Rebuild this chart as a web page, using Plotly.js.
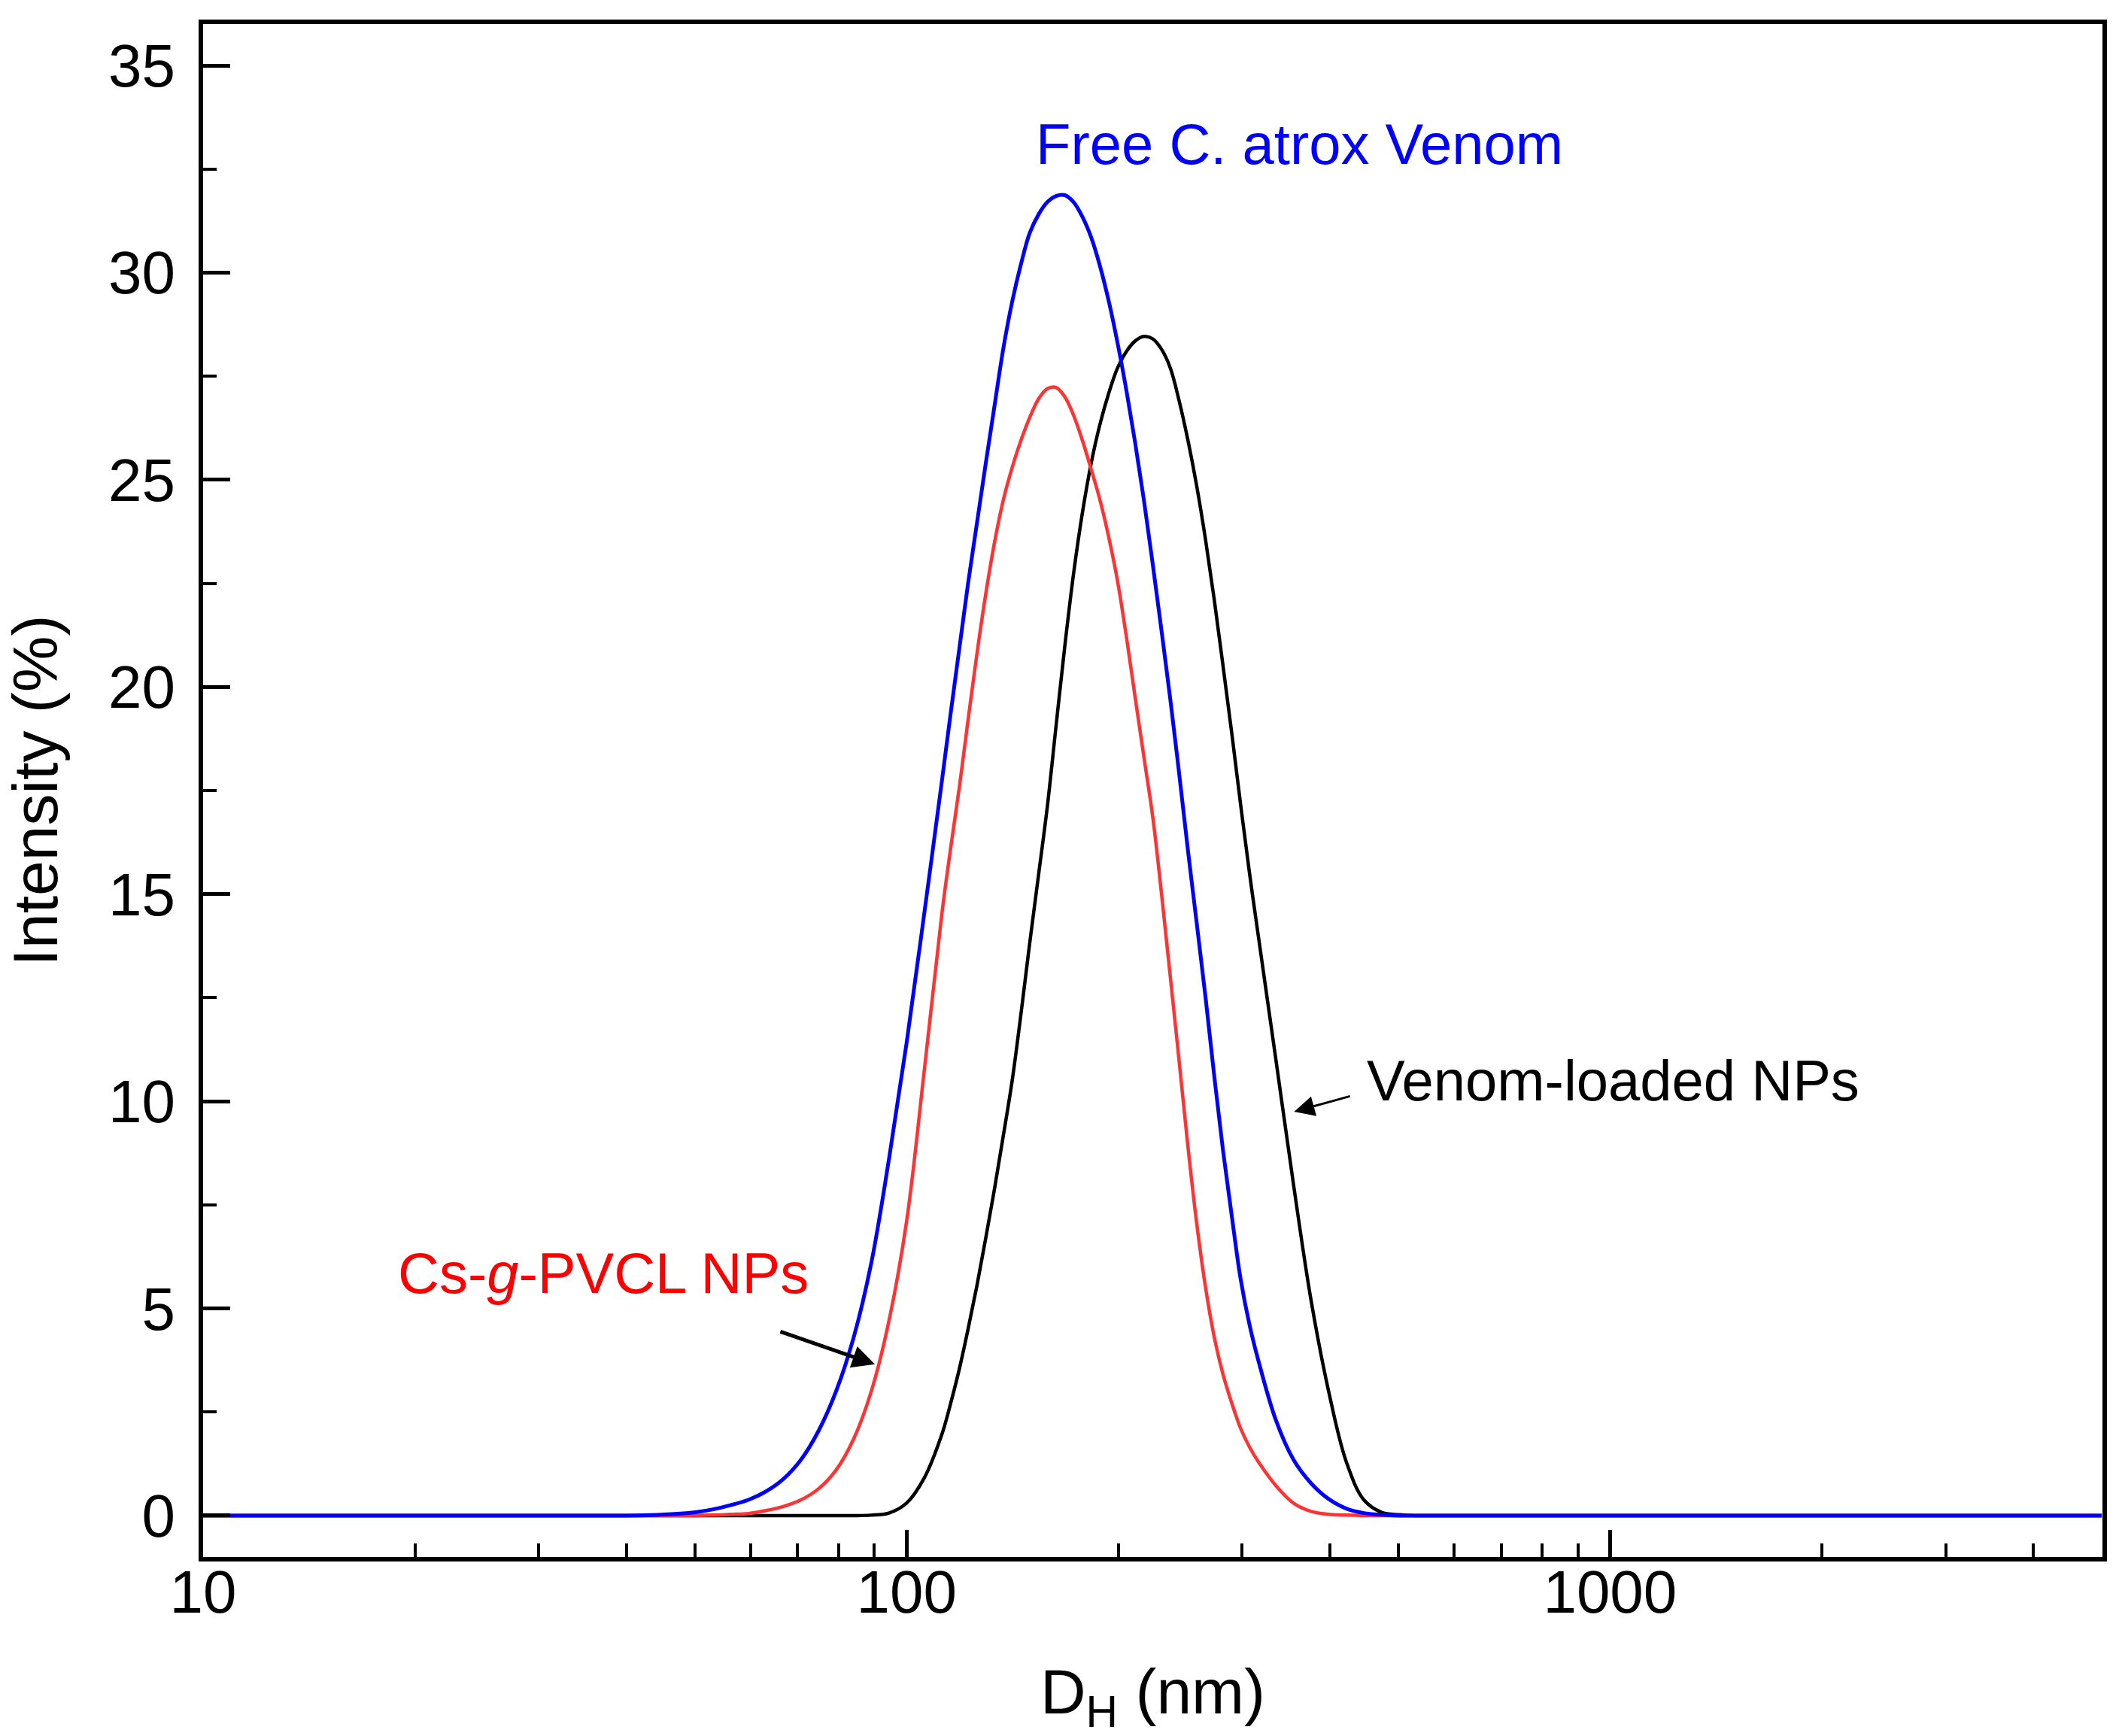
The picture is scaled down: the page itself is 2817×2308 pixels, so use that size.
<!DOCTYPE html>
<html>
<head>
<meta charset="utf-8">
<script src="https://cdn.plot.ly/plotly-3.0.1.min.js"></script>
<style>
  html, body { margin: 0; padding: 0; background: #ffffff; }
  #chart { width: 2817px; height: 2308px; }
</style>
</head>
<body>
<div id="chart"></div>
<script>
// DLS size distributions (intensity %), on a shared size grid (nm)
const sizeNm = [10, 39.8, 44.7, 50.1, 53.1, 56.2, 59.6, 63.1, 66.8, 70.8, 75.0, 79.4, 84.1,
  89.1, 94.4, 100, 105.9, 112.2, 115.5, 118.9, 122.3, 125.9, 129.6, 133.4, 137.2, 141.3,
  145.4, 149.6, 154.0, 158.5, 163.1, 167.9, 172.8, 177.8, 183.0, 188.4, 193.9, 199.5,
  205.4, 211.3, 217.5, 223.9, 230.4, 237.1, 244.1, 251.2, 258.5, 266.1, 273.8, 281.8,
  290.1, 298.5, 307.3, 316.2, 335.0, 354.8, 375.8, 398.1, 421.7, 446.7, 473.2, 501.2,
  530.9, 562.3, 1000, 5000];

// Cs-g-PVCL NPs (red)
const intBlank = [0, 0, 0, 0, 0.01, 0.03, 0.05, 0.12, 0.22, 0.38, 0.65, 1.1, 1.85,
  3.0, 4.7, 7.1, 10.7, 14.5, 16.1, 17.6, 19.2, 20.8, 22.25, 23.5, 24.5, 25.3,
  25.95, 26.5, 26.95, 27.2, 27.23, 27.0, 26.55, 25.95, 25.25, 24.5, 23.6, 22.55,
  21.2, 19.75, 18.3, 16.85, 15.0, 13.0, 10.95, 8.9, 7.05, 5.5, 4.3, 3.4,
  2.7, 2.1, 1.65, 1.3, 0.72, 0.3, 0.1, 0.03, 0.01, 0, 0, 0,
  0, 0, 0, 0];

// Free C. atrox venom (blue)
const intFree = [0, 0, 0.02, 0.08, 0.15, 0.25, 0.38, 0.58, 0.88, 1.35, 2.05, 3.0, 4.3,
  6.1, 8.6, 11.4, 14.5, 17.7, 19.35, 20.95, 22.5, 23.95, 25.4, 26.8, 28.15, 29.3,
  30.2, 30.95, 31.4, 31.7, 31.85, 31.87, 31.7, 31.35, 30.85, 30.15, 29.3, 28.3,
  27.15, 25.9, 24.5, 22.95, 21.35, 19.7, 17.9, 16.05, 14.3, 12.5, 10.6, 8.8,
  7.2, 5.7, 4.6, 3.75, 2.3, 1.35, 0.78, 0.4, 0.17, 0.06, 0.02, 0,
  0, 0, 0, 0];

// Venom-loaded NPs (black)
const intLoaded = [0, 0, 0, 0, 0, 0, 0, 0, 0, 0, 0, 0, 0,
  0.01, 0.06, 0.3, 0.9, 1.95, 2.7, 3.55, 4.5, 5.55, 6.7, 7.9, 9.15, 10.5,
  12.1, 13.8, 15.45, 17.1, 19.05, 21.0, 22.75, 24.2, 25.4, 26.35, 27.1, 27.7,
  28.1, 28.35, 28.46, 28.4, 28.15, 27.7, 26.9, 25.95, 24.85, 23.55, 22.1, 20.5,
  18.85, 17.15, 15.5, 14.0, 11.0, 8.0, 5.2, 3.0, 1.3, 0.38, 0.08, 0.02,
  0, 0, 0, 0];

const xMajor = [10, 100, 1000];
const xMajorText = ["10", "100", "1000"];
const xMinor = [20, 30, 40, 50, 60, 70, 80, 90, 200, 300, 400, 500, 600, 700, 800, 900,
  2000, 3000, 4000];

const FONT = "Liberation Sans, Arial, sans-serif";

function curve(y, color, width) {
  return {
    x: sizeNm,
    y: y,
    type: "scatter",
    mode: "lines",
    line: { color: color, width: width, shape: "spline", smoothing: 1 },
    hoverinfo: "x+y",
    showlegend: false,
  };
}

const traces = [
  curve(intLoaded, "#000000", 4.5),
  curve(intBlank, "#ff3333", 4.5),
  curve(intFree, "#0000ff", 5),
];

const layout = {
  width: 2817,
  height: 2308,
  margin: { l: 270, r: 22, t: 32, b: 238 },
  paper_bgcolor: "#ffffff",
  plot_bgcolor: "#ffffff",
  font: { family: FONT, color: "#000000", size: 80 },
  xaxis: {
    type: "log",
    range: [1, 3.7],
    tickvals: xMajor,
    ticktext: xMajorText,
    ticks: "inside",
    ticklen: 36,
    tickwidth: 5,
    tickcolor: "#000000",
    tickfont: { size: 80, family: FONT },
    ticklabelstandoff: -28,
    minor: {
      tickvals: xMinor,
      ticks: "inside",
      ticklen: 18,
      tickwidth: 4,
      tickcolor: "#000000",
      showgrid: false,
    },
    showline: true,
    linewidth: 6,
    linecolor: "#000000",
    mirror: true,
    showgrid: false,
    zeroline: false,
    title: {
      text: "D<sub>H</sub> (nm)",
      font: { size: 84, family: FONT },
      standoff: 80,
    },
  },
  yaxis: {
    range: [-1, 36],
    tick0: 0,
    dtick: 5,
    ticks: "inside",
    ticklen: 36,
    tickwidth: 5,
    tickcolor: "#000000",
    tickfont: { size: 80, family: FONT },
    ticklabelstandoff: 15,
    minor: { dtick: 2.5, ticks: "inside", ticklen: 18, tickwidth: 4, tickcolor: "#000000" },
    showline: true,
    linewidth: 6,
    linecolor: "#000000",
    mirror: true,
    showgrid: false,
    zeroline: false,
    title: {
      text: "Intensity (%)",
      font: { size: 84, family: FONT },
      standoff: 52,
    },
  },
  annotations: [
    {
      text: "Free C. atrox Venom",
      xref: "x", yref: "y",
      x: 2.559, y: 33.1,
      xanchor: "center", yanchor: "middle",
      showarrow: false,
      font: { size: 76, color: "#0000ff", family: FONT },
    },
    {
      text: "Venom-loaded NPs",
      xref: "x", yref: "y",
      x: 2.652, y: 10.5,
      xanchor: "left", yanchor: "middle",
      showarrow: false,
      font: { size: 76, color: "#000000", family: FONT },
    },
    {
      text: "Cs-<i>g</i>-PVCL NPs",
      xref: "x", yref: "y",
      x: 1.275, y: 5.85,
      xanchor: "left", yanchor: "middle",
      showarrow: false,
      font: { size: 76, color: "#ff0000", family: FONT },
    },
    {
      // arrow to the venom-loaded curve
      text: "",
      xref: "x", yref: "y", axref: "x", ayref: "y",
      x: 2.551, y: 9.75,
      ax: 2.632, ay: 10.13,
      showarrow: true,
      arrowhead: 2, arrowsize: 1.8, arrowwidth: 3, arrowcolor: "#000000",
    },
    {
      // arrow to the Cs-g-PVCL curve
      text: "",
      xref: "x", yref: "y", axref: "x", ayref: "y",
      x: 1.955, y: 3.65,
      ax: 1.819, ay: 4.45,
      showarrow: true,
      arrowhead: 2, arrowsize: 1.2, arrowwidth: 5, arrowcolor: "#000000",
    },
  ],
};

Plotly.newPlot("chart", traces, layout, { displayModeBar: false, responsive: false });
</script>
</body>
</html>
